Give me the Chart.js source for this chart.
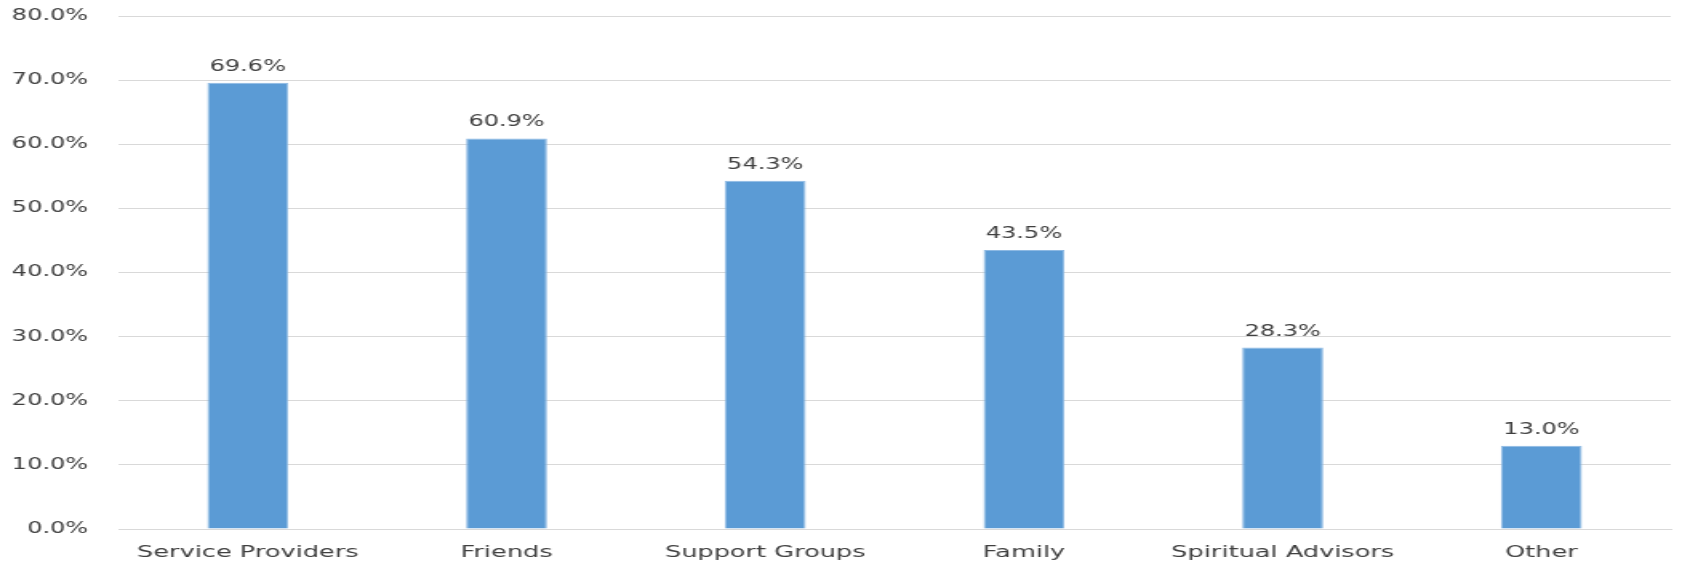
<!DOCTYPE html>
<html>
<head>
<meta charset="utf-8">
<script src="https://cdn.jsdelivr.net/npm/chart.js@4"></script>
<style>
    html, body { margin: 0; padding: 0; background: #ffffff; }
    #chart { display: block; }
</style>
</head>
<body>
<!-- the original picture is stretched sideways, so the canvas is drawn narrow and widened by CSS -->
<canvas id="chart" width="1051" height="564" style="width:1682px;height:564px;"></canvas>
<script>
// Dane
const categories = ["Service Providers", "Friends", "Support Groups", "Family", "Spiritual Advisors", "Other"];
const percentValues = [69.6, 60.9, 54.3, 43.5, 28.3, 13.0];

// Oś Y: 0% - 80% co 10%
const yMin = 0;
const yMax = 80;
const yStep = 10;

const textColor = "#404040";
const gridColor = "#D9D9D9";
const barColor = "#5B9BD5";

// etykiety z wartościami nad słupkami
const valueLabels = {
    id: "valueLabels",
    afterDatasetsDraw(chart) {
        const ctx = chart.ctx;
        const meta = chart.getDatasetMeta(0);
        ctx.save();
        ctx.fillStyle = textColor;
        ctx.font = "15px 'DejaVu Sans'";
        ctx.textAlign = "center";
        ctx.textBaseline = "alphabetic";
        meta.data.forEach((bar, i) => {
            const value = chart.data.datasets[0].data[i];
            ctx.fillText(value.toFixed(1) + "%", bar.x, bar.y - 12);
        });
        ctx.restore();
    },
};

const ctx = document.getElementById("chart").getContext("2d");
const chart = new Chart(ctx, {
    type: "bar",
    data: {
        labels: categories,
        datasets: [
            {
                data: percentValues,
                backgroundColor: barColor,
                borderColor: "#8DB9E3",
                borderWidth: 1,
                barPercentage: 0.313,
                categoryPercentage: 1.0,
            },
        ],
    },
    options: {
        responsive: false,
        animation: false,
        layout: {
            padding: { left: 0, right: 7, top: 16, bottom: 0 },
        },
        plugins: {
            legend: { display: false },
            tooltip: { enabled: false },
        },
        scales: {
            x: {
                grid: { display: false, drawTicks: false },
                border: { display: true, color: gridColor, width: 1 },
                ticks: {
                    color: textColor,
                    font: { family: "'DejaVu Sans'", size: 16 },
                    padding: 14,
                    maxRotation: 0,
                },
                afterFit: (scale) => { scale.height = 35; },
            },
            y: {
                min: yMin,
                max: yMax,
                grid: { color: gridColor, drawTicks: false },
                border: { display: false },
                ticks: {
                    stepSize: yStep,
                    color: textColor,
                    font: { family: "'DejaVu Sans'", size: 15 },
                    padding: 19,
                    callback: (value) => value.toFixed(1) + "%",
                },
                // tick padding would also push the plot down, so keep only half a label
                afterFit: (scale) => {
                    scale.width = 74;
                    scale.paddingTop = 9;
                    scale.paddingBottom = 9;
                },
            },
        },
    },
    plugins: [valueLabels],
});
</script>
</body>
</html>
